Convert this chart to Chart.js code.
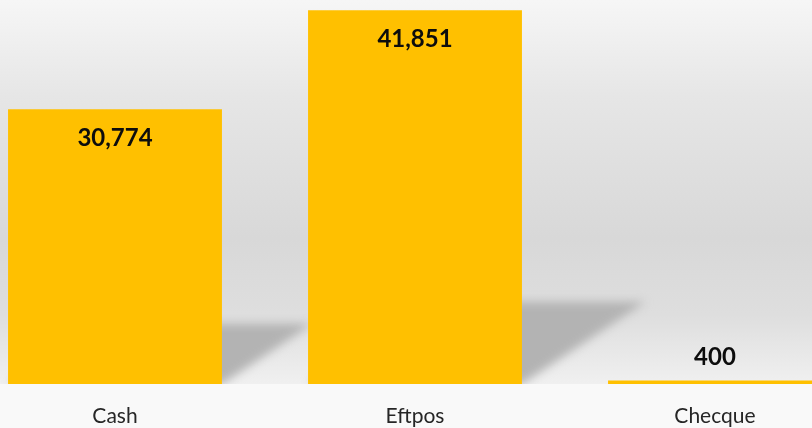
<!DOCTYPE html>
<html>
<head>
<meta charset="utf-8">
<script src="https://cdn.jsdelivr.net/npm/chart.js@4/dist/chart.umd.min.js"></script>
<style>
  html, body { margin: 0; padding: 0; overflow: hidden; background: #f9f9f9; }
  #wrap { position: absolute; left: -35px; top: 0; width: 900px; height: 428px; }
</style>
</head>
<body>
<div id="wrap"><canvas id="payChart" width="900" height="428"></canvas></div>
<script>
const categories = ['Cash', 'Eftpos', 'Checque'];
const amounts = [30774, 41851, 400];

const barColor = '#FFC000';

// grey backdrop, darker toward the middle, lighter under the axis
const backdrop = {
    id: 'backdrop',
    beforeDraw(chart) {
        const { ctx, width, height, chartArea } = chart;
        const g = ctx.createLinearGradient(0, 0, 0, chartArea.bottom);
        g.addColorStop(0, '#f6f6f6');
        g.addColorStop(0.25, '#e6e6e6');
        g.addColorStop(0.62, '#d8d8d8');
        g.addColorStop(0.82, '#dedede');
        g.addColorStop(1, '#f0f0f0');
        ctx.save();
        ctx.fillStyle = g;
        ctx.fillRect(0, 0, width, chartArea.bottom);
        ctx.fillStyle = '#f9f9f9';
        ctx.fillRect(0, chartArea.bottom, width, height - chartArea.bottom);
        ctx.restore();
    }
};

// perspective shadow cast behind every bar
const barShadow = {
    id: 'barShadow',
    beforeDatasetsDraw(chart) {
        const { ctx, chartArea } = chart;
        const meta = chart.getDatasetMeta(0);
        ctx.save();
        ctx.beginPath();
        ctx.rect(0, 0, chart.width, chartArea.bottom);
        ctx.clip();
        ctx.filter = 'blur(5px)';
        ctx.fillStyle = '#b3b3b3';
        meta.data.forEach(bar => {
            const h = bar.base - bar.y;
            if (h < 20) return;
            const half = bar.width / 2;
            const top = bar.base - h * 0.22;
            const shift = h * 0.33;
            ctx.beginPath();
            ctx.moveTo(bar.x - half, bar.base);
            ctx.lineTo(bar.x + half, bar.base);
            ctx.lineTo(bar.x + half + shift, top);
            ctx.lineTo(bar.x - half + shift, top);
            ctx.closePath();
            ctx.fill();
        });
        ctx.restore();
    }
};

const valueLabels = {
    id: 'valueLabels',
    afterDatasetsDraw(chart) {
        const { ctx } = chart;
        const meta = chart.getDatasetMeta(0);
        ctx.save();
        ctx.font = 'bold 24px Lato';
        ctx.fillStyle = '#0d0d0d';
        ctx.textAlign = 'center';
        ctx.textBaseline = 'middle';
        meta.data.forEach((bar, i) => {
            const h = bar.base - bar.y;
            const y = h > 60 ? bar.y + 29 : bar.y - 23;
            ctx.fillText(amounts[i].toLocaleString('en-US'), bar.x, y);
        });
        ctx.restore();
    }
};

new Chart(document.getElementById('payChart'), {
    type: 'bar',
    data: {
        labels: categories,
        datasets: [{
            data: amounts,
            backgroundColor: barColor,
            borderWidth: 0,
            categoryPercentage: 1,
            barPercentage: 0.713
        }]
    },
    options: {
        responsive: false,
        animation: false,
        layout: { padding: 0 },
        plugins: {
            legend: { display: false },
            tooltip: { enabled: false }
        },
        scales: {
            x: {
                grid: { display: false, drawTicks: false },
                border: { display: false },
                ticks: {
                    padding: 20,
                    color: '#262626',
                    font: { family: 'Lato', size: 21 }
                },
                afterFit(scale) { scale.height = 44; }
            },
            y: {
                display: false,
                min: 0,
                max: 43000
            }
        }
    },
    plugins: [backdrop, barShadow, valueLabels]
});
</script>
</body>
</html>
